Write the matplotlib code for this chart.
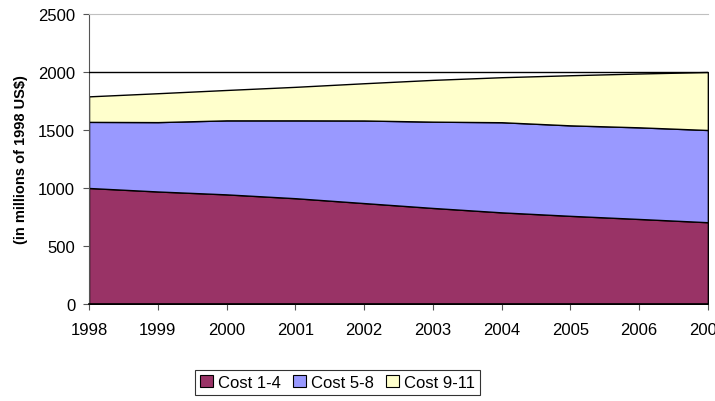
import matplotlib.pyplot as plt

plt.rcParams['font.family'] = ['Liberation Sans', 'DejaVu Sans']

years = [1998, 1999, 2000, 2001, 2002, 2003, 2004, 2005, 2006, 2007]
cost_1_4 = [1000, 970, 945, 912, 870, 828, 790, 760, 733, 705]
cost_5_8 = [570, 598, 638, 671, 712, 744, 777, 780, 790, 795]
cost_9_11 = [220, 249, 262, 289, 321, 360, 388, 432, 464, 500]
labels = ['Cost 1-4', 'Cost 5-8', 'Cost 9-11']
colors = ['#993366', '#9999FF', '#FFFFCC']
y_ticks = [0, 500, 1000, 1500, 2000, 2500]

fig = plt.figure(figsize=(7.15, 4.02), dpi=100)
ax = fig.add_axes([0.1245, 0.2413, 0.8655, 0.7214])

ax.stackplot(years, cost_1_4, cost_5_8, cost_9_11, labels=labels,
             colors=colors, edgecolor='black', linewidth=1.0)
ax.axhline(2000, color='black', lw=1.0, zorder=3)

ax.set_xlim(years[0], years[-1])
ax.set_ylim(0, 2500)
ax.set_xticks(years)
ax.set_yticks(y_ticks)
ax.tick_params(labelsize=12, length=4, direction='out', color='#555555')
ax.tick_params(axis='x', pad=9)
ax.tick_params(axis='y', pad=6)

ax.spines['right'].set_visible(False)
ax.spines['top'].set_color('#c0c0c0')
ax.spines['left'].set_color('#555555')
ax.spines['bottom'].set_color('black')
ax.spines['bottom'].set_linewidth(1.2)

ax.set_ylabel('(in millions of 1998 US$)', fontsize=10.5, fontweight='bold', labelpad=7)

leg = fig.legend(loc='center', bbox_to_anchor=(0.472, 0.047), ncol=3,
                 fontsize=12, frameon=True, fancybox=False, edgecolor='black',
                 handlelength=0.8, handleheight=0.8, handletextpad=0.3,
                 columnspacing=0.7, borderpad=0.3, borderaxespad=0)
leg.get_frame().set_linewidth(0.8)
for h in leg.legend_handles:
    h.set_edgecolor('black')
    h.set_linewidth(0.8)

fig.savefig('out.png', dpi=100)
